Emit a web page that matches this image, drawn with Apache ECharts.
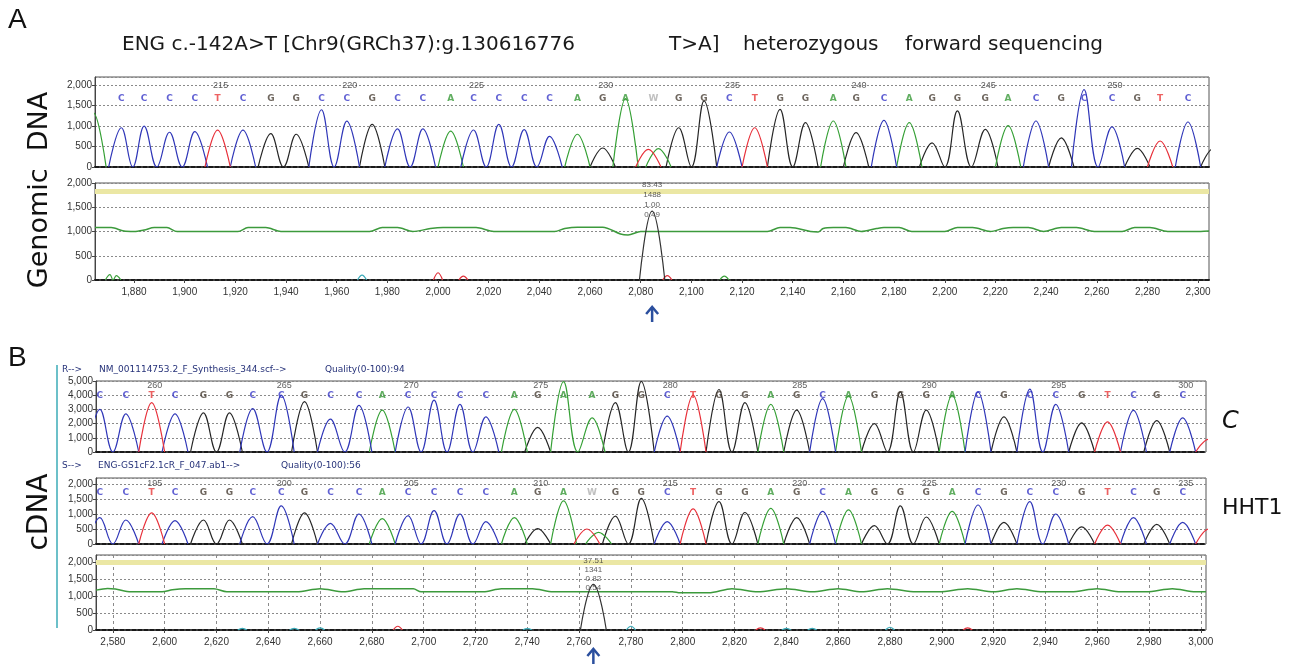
<!DOCTYPE html>
<html>
<head>
<meta charset="utf-8">
<title>ENG c.-142A>T chromatograms</title>
<script src="https://cdn.jsdelivr.net/npm/echarts@6/dist/echarts.min.js"></script>
<style>
  html, body { margin: 0; padding: 0; background: #fff; }
  #MyChart { width: 1298px; height: 665px; }
</style>
</head>
<body>
<div id="MyChart"></div>
<script>
// ---------- A: genomic DNA, forward read ----------
const aFirstBase = 210
const aSeq = 'ACCCCTCGGCCGCCACCCCAGAWGGCTGGAGCAGGGACGCCGTCG'.split('')
const aPos = [1864, 1875, 1884, 1894, 1904, 1913, 1923, 1934, 1944, 1954, 1964, 1974, 1984, 1994, 2005,
  2014, 2024, 2034, 2044, 2055, 2065, 2074, 2085, 2095, 2105, 2115, 2125, 2135, 2145, 2156, 2165,
  2176, 2186, 2195, 2205, 2216, 2225, 2236, 2246, 2255, 2266, 2276, 2285, 2296, 2306]
const aHeight = [1320, 960, 1000, 850, 865, 900, 900, 815, 800, 1400, 1120, 1040, 930, 930, 875,
  905, 1040, 915, 750, 800, 465, 1670, 0, 960, 1615, 855, 960, 1410, 1085, 1125, 840,
  1140, 1085, 590, 1370, 920, 1010, 1125, 710, 1890, 980, 455, 635, 1100, 450]
// the heterozygous call W = A + T
const aHetPos = [2083, 2087]
const aHetSeq = ['T', 'A']
const aHetHeight = [430, 450]
// difference trace
const aDiffPeakPos = [2084.5]
const aDiffPeakHeight = [1420]
const aDiffStats = ['83.43', '1488', '1.00', '0.49']
const aNoisePos = [1870.5, 1873, 1970, 2000, 2010, 2090.5, 2113]
const aNoiseSeq = ['A', 'A', 'C', 'T', 'T', 'T', 'A']
const aNoiseHeight = [110, 90, 100, 150, 80, 90, 80]
const aQualX = [1864.6, 1871, 1876, 1880, 1884, 1888, 1893, 1897, 1921, 1925, 1932, 1938, 1973, 1978,
  1984, 1990, 1997, 2002, 2015, 2022, 2046, 2050, 2055, 2065, 2072, 2075, 2080, 2130, 2135, 2139,
  2147, 2150, 2152, 2156, 2161, 2167, 2173, 2176, 2182, 2187, 2200, 2205, 2211, 2218, 2223, 2227,
  2233, 2239, 2246, 2252, 2259, 2270, 2275, 2281, 2288, 2301, 2304.3]
const aQualY = [1080, 1080, 1010, 1000, 1030, 1080, 1080, 1000, 1000, 1080, 1080, 1000, 1000, 1080,
  1080, 1000, 1060, 1080, 1080, 1000, 1000, 1060, 1090, 1090, 950, 930, 1000, 1000, 1080, 1080,
  1000, 990, 1060, 1080, 1080, 1000, 1060, 1080, 1080, 1000, 1000, 1080, 1080, 1000, 1060, 1080,
  1080, 1000, 1080, 1080, 1000, 1000, 1080, 1080, 1000, 1000, 1010]
const aThreshold = 1840
const aXTicks = [1880, 1900, 1920, 1940, 1960, 1980, 2000, 2020, 2040, 2060, 2080, 2100, 2120, 2140,
  2160, 2180, 2200, 2220, 2240, 2260, 2280, 2300]

// ---------- B: cDNA, reference (C) and patient (HHT1) ----------
const bPos = [2575, 2585, 2595, 2604, 2615, 2625, 2634, 2645, 2654, 2664, 2675, 2684, 2694, 2704,
  2714, 2724, 2735, 2744, 2754, 2765, 2774, 2784, 2794, 2804, 2814, 2824, 2834, 2844, 2854, 2864,
  2874, 2884, 2894, 2904, 2914, 2924, 2934, 2944, 2954, 2964, 2974, 2983, 2993, 3003]
const refFirstBase = 258
const refSeq = 'CCTCGGCCGCCACCCCAGAAGGCTGGAGCAGGGACGCCGTCGCT'.split('')
const refHeight = [3000, 2690, 3480, 2690, 2760, 2760, 3050, 4000, 3550, 2310, 3290, 2950, 3170, 3650,
  3360, 2480, 3000, 1740, 4950, 2400, 3480, 4980, 2520, 4000, 4400, 3480, 3360, 2950, 3760, 3950,
  2000, 4240, 2950, 4000, 4240, 2480, 4430, 3360, 2050, 2120, 2930, 2210, 2400, 900]
const sFirstBase = 193
const sSeq = 'CCTCGGCCGCCACCCCAGAWGGCTGGAGCAGGGACGCCGTCGCT'.split('')
const sHeight = [880, 800, 1040, 780, 800, 800, 910, 1270, 1040, 690, 1000, 845, 945, 1110,
  1000, 745, 880, 510, 1435, 0, 930, 1520, 745, 1170, 1410, 1050, 1190, 880, 1090, 1140,
  610, 1270, 900, 1090, 1300, 720, 1410, 1000, 570, 630, 880, 655, 720, 500]
const sHetPos = [2763, 2767.5]
const sHetSeq = ['T', 'A']
const sHetHeight = [500, 390]
const bDiffPeakPos = [2765.5]
const bDiffPeakHeight = [1340]
const bDiffStats = ['37.51', '1341', '0.82', '0.54']
const bNoisePos = [2630, 2650, 2660, 2690, 2740, 2780, 2830, 2840, 2850, 2880, 2910]
const bNoiseSeq = ['C', 'C', 'C', 'T', 'C', 'C', 'T', 'C', 'C', 'C', 'T']
const bNoiseHeight = [50, 50, 60, 110, 40, 110, 60, 50, 50, 80, 60]
const bQualX = [2573.5, 2578, 2581, 2587, 2599, 2603, 2608, 2619, 2624, 2651, 2660, 2669, 2677, 2696,
  2699, 2723, 2730, 2742, 2750, 2796, 2799, 2810, 2819, 2829, 2840, 2850, 2860, 2869, 2879, 2890,
  2899, 2910, 2920, 2929, 2939, 2950, 2960, 2969, 2979, 2989, 2998, 3002]
const bQualY = [1170, 1220, 1200, 1120, 1120, 1180, 1210, 1210, 1120, 1120, 1210, 1120, 1210, 1210,
  1120, 1120, 1210, 1210, 1120, 1120, 1090, 1090, 1210, 1120, 1210, 1120, 1210, 1120, 1210, 1120,
  1120, 1210, 1120, 1210, 1120, 1120, 1210, 1120, 1120, 1210, 1120, 1120]
const bThreshold = 2000
const bXTicks = [2580, 2600, 2620, 2640, 2660, 2680, 2700, 2720, 2740, 2760, 2780, 2800, 2820, 2840,
  2860, 2880, 2900, 2920, 2940, 2960, 2980, 3000]

// ---------- styles ----------
const A_RANGE = [1864.6, 2304.3]
const B_RANGE = [2573.5, 3002]
const traceColor = { A: '#35a035', C: '#2f36b8', G: '#262626', T: '#e8303a' }
const letterColor = { A: '#3a9a3a', C: '#3a3ac8', G: '#4a4036', T: '#e83a3a', W: '#b0b0b0' }
const diffColor = { A: '#3aa03a', C: '#3aaab8', G: '#333', T: '#e0303a' }
const FONT = '"Liberation Sans", Arial, sans-serif'
const SMALL = '"DejaVu Sans", Tahoma, sans-serif'

// one peak per base call: up from the baseline, top at the height, back down
function traceData (pos, seq, height, base, hw) {
  let pk = []
  for (let i = 0; i < pos.length; i++) {
    if (seq[i] === base && height[i] > 0) pk.push([pos[i], height[i]])
  }
  pk.sort((a, b) => a[0] - b[0])
  let out = []
  for (let i = 0; i < pk.length; i++) {
    let prev = pk[i - 1]
    let next = pk[i + 1]
    let joinPrev = prev && pk[i][0] - prev[0] <= 2 * hw + 1.5
    let joinNext = next && next[0] - pk[i][0] <= 2 * hw + 1.5
    if (!joinPrev) {
      if (out.length) out.push([pk[i][0] - hw, null])
      out.push([pk[i][0] - hw, 0])
    }
    out.push(pk[i])
    out.push(joinNext ? [(pk[i][0] + next[0]) / 2, 0] : [pk[i][0] + hw, 0])
  }
  return out
}

let series = []

function addChromatogram (grid, pos, seq, height, hetPos, hetSeq, hetHeight, firstBase, range, letterY, numberY) {
  let allPos = pos.concat(hetPos)
  let allSeq = seq.concat(hetSeq)
  let allH = height.concat(hetHeight)
  ;['G', 'A', 'C', 'T'].forEach(b => {
    series.push({
      type: 'line', xAxisIndex: grid, yAxisIndex: grid,
      data: traceData(allPos, allSeq, allH, b, 5),
      smooth: 0.4, showSymbol: false, silent: true,
      lineStyle: { color: traceColor[b], width: 1.2 }
    })
  })
  // base letters and position numbers
  let letters = []
  let numbers = []
  for (let i = 0; i < pos.length; i++) {
    if (pos[i] < range[0] + 1 || pos[i] > range[1] - 1) continue
    letters.push({ value: [pos[i], letterY], name: seq[i], label: { color: letterColor[seq[i]] } })
    if ((firstBase + i) % 5 === 0) numbers.push({ value: [pos[i], numberY], name: String(firstBase + i) })
  }
  series.push({
    type: 'scatter', xAxisIndex: grid, yAxisIndex: grid, data: letters, silent: true, z: 5,
    symbolSize: 1, itemStyle: { color: 'rgba(0,0,0,0)' },
    label: { show: true, position: 'inside', formatter: p => p.name, fontSize: 9, fontWeight: 'bold', fontFamily: SMALL }
  })
  series.push({
    type: 'scatter', xAxisIndex: grid, yAxisIndex: grid, data: numbers, silent: true, z: 5,
    symbolSize: 1, itemStyle: { color: 'rgba(0,0,0,0)' },
    label: { show: true, position: 'inside', offset: [3, 0], formatter: p => p.name, fontSize: 9,
      fontFamily: FONT, color: '#333' }
  })
}

function addDifference (grid, peakPos, peakH, stats, noisePos, noiseSeq, noiseH, qualX, qualY, threshold, lh) {
  let qual = qualX.map((x, i) => [x, qualY[i]])
  series.push({
    type: 'line', xAxisIndex: grid, yAxisIndex: grid, data: qual, smooth: 0.3,
    showSymbol: false, silent: true, lineStyle: { color: '#3c9a3c', width: 1.5 },
    markLine: {
      silent: true, symbol: 'none', label: { show: false },
      lineStyle: { color: '#ebe7a4', width: 5, type: 'solid' },
      data: [{ yAxis: threshold }]
    }
  })
  ;['A', 'C', 'T'].forEach(b => {
    series.push({
      type: 'line', xAxisIndex: grid, yAxisIndex: grid,
      data: traceData(noisePos, noiseSeq, noiseH, b, 1.8),
      smooth: 0.4, showSymbol: false, silent: true,
      lineStyle: { color: diffColor[b], width: 1.2 }
    })
  })
  series.push({
    type: 'line', xAxisIndex: grid, yAxisIndex: grid,
    data: traceData(peakPos, peakPos.map(() => 'G'), peakH, 'G', 5),
    smooth: 0.45, showSymbol: false, silent: true,
    lineStyle: { color: diffColor.G, width: 1.2 }
  })
  series.push({
    type: 'scatter', xAxisIndex: grid, yAxisIndex: grid, silent: true, z: 6,
    data: [[peakPos[0], peakH[0]]], symbolSize: 1, itemStyle: { color: 'rgba(0,0,0,0)' },
    label: { show: true, position: 'inside', offset: [0, -lh - 1], formatter: stats.join('\n'),
      fontSize: 8, lineHeight: lh, fontFamily: FONT, color: '#333' }
  })
}

addChromatogram(0, aPos, aSeq, aHeight, aHetPos, aHetSeq, aHetHeight, aFirstBase, A_RANGE, 1680, 2000)
addDifference(1, aDiffPeakPos, aDiffPeakHeight, aDiffStats, aNoisePos, aNoiseSeq, aNoiseHeight,
  aQualX, aQualY, aThreshold, 10)
addChromatogram(2, bPos, refSeq, refHeight, [], [], [], refFirstBase, B_RANGE, 4000, 4700)
addChromatogram(3, bPos, sSeq, sHeight, sHetPos, sHetSeq, sHetHeight, sFirstBase, B_RANGE, 1700, 2000)
addDifference(4, bDiffPeakPos, bDiffPeakHeight, bDiffStats, bNoisePos, bNoiseSeq, bNoiseHeight,
  bQualX, bQualY, bThreshold, 9)

const grids = [
  { left: 95, right: 89, top: 77, height: 90 },
  { left: 95, right: 89, top: 183, height: 97 },
  { left: 96, right: 92, top: 381, height: 71 },
  { left: 96, right: 92, top: 478, height: 66 },
  { left: 96, right: 92, top: 555, height: 75 }
].map(g => Object.assign({ show: true, borderColor: '#555', borderWidth: 1 }, g))

const yMax = [2200, 2000, 5000, 2200, 2200]
const yStep = [500, 500, 1000, 500, 500]
const yAxes = yMax.map((m, i) => ({
  gridIndex: i, type: 'value', min: 0, max: m, interval: yStep[i],
  axisLine: { show: true, lineStyle: { color: '#444' } },
  axisTick: { show: true, length: 3, lineStyle: { color: '#444' } },
  axisLabel: { fontSize: 10, fontFamily: FONT, color: '#333', margin: 3, showMaxLabel: m % yStep[i] === 0 },
  splitLine: { show: true, lineStyle: { color: '#8a8a8a', type: [2, 2], width: 1 } }
}))

const xRanges = [A_RANGE, A_RANGE, B_RANGE, B_RANGE, B_RANGE]
const xTicks = [null, aXTicks, null, null, bXTicks]
const xAxes = xRanges.map((r, i) => {
  let ax = {
    gridIndex: i, type: 'value', min: r[0], max: r[1],
    axisLine: { show: true, onZero: false, lineStyle: { color: '#1a1a1a', type: [4, 2], width: 2 } },
    axisTick: { show: false }, axisLabel: { show: false }, splitLine: { show: false }
  }
  if (xTicks[i]) {
    ax.axisTick = { show: true, customValues: xTicks[i], length: 3, lineStyle: { color: '#444' } }
    ax.axisLabel = { show: true, customValues: xTicks[i], fontSize: 10, fontFamily: FONT, color: '#333', margin: 7 }
    ax.splitLine = { show: i === 4, lineStyle: { color: '#8a8a8a', type: [3, 3], width: 1 } }
  }
  return ax
})

let myChart = echarts.init(document.getElementById('MyChart'), null, { renderer: 'canvas' })
myChart.setOption({
  animation: false,
  backgroundColor: '#fff',
  grid: grids,
  xAxis: xAxes,
  yAxis: yAxes,
  series: series
})

// annotations (arrows point at the heterozygous position)
function arrow (x, y) {
  return {
    type: 'group', silent: true, children: [
      { type: 'polyline', shape: { points: [[x - 6, y + 7], [x, y], [x + 6, y + 7]] },
        style: { stroke: '#2b4f9e', lineWidth: 2.5, fill: null } },
      { type: 'line', shape: { x1: x, y1: y, x2: x, y2: y + 15 }, style: { stroke: '#2b4f9e', lineWidth: 2.5 } }
    ]
  }
}
function text (x, y, str, size, extra) {
  return { type: 'text', x: x, y: y, silent: true,
    style: Object.assign({ text: str, fontSize: size, fontFamily: FONT, fill: '#111', verticalAlign: 'middle' }, extra || {}) }
}
let ax = myChart.convertToPixel({ xAxisIndex: 1 }, aDiffPeakPos[0])
let bx = myChart.convertToPixel({ xAxisIndex: 4 }, bDiffPeakPos[0])
const navy = { fill: '#27337a', fontFamily: SMALL }
const TITLE = { fontFamily: '"DejaVu Sans", sans-serif', fill: '#1a1a1a' }
myChart.setOption({
  graphic: [
    text(8, 20, 'A', 28),
    text(8, 358, 'B', 28),
    text(122, 45, 'ENG c.-142A>T [Chr9(GRCh37):g.130616776', 20, TITLE),
    text(669, 45, 'T>A]', 20, TITLE),
    text(743, 45, 'heterozygous', 20, TITLE),
    text(905, 45, 'forward sequencing', 20, TITLE),
    Object.assign(text(40, 190, 'Genomic  DNA', 27, { align: 'center', fontFamily: '"DejaVu Sans", sans-serif' }), { rotation: Math.PI / 2 }),
    Object.assign(text(40, 512, 'cDNA', 28, { align: 'center', fontFamily: '"DejaVu Sans", sans-serif' }), { rotation: Math.PI / 2 }),
    text(1222, 422, 'C', 24, { fontStyle: 'italic', fontFamily: '"DejaVu Sans", sans-serif' }),
    text(1222, 508, 'HHT1', 22, { fontFamily: '"DejaVu Sans", sans-serif' }),
    text(62, 370, 'R-->', 9, navy),
    text(99, 370, 'NM_001114753.2_F_Synthesis_344.scf-->', 9, navy),
    text(325, 370, 'Quality(0-100):94', 9, navy),
    text(62, 466, 'S-->', 9, navy),
    text(98, 466, 'ENG-GS1cF2.1cR_F_047.ab1-->', 9, navy),
    text(281, 466, 'Quality(0-100):56', 9, navy),
    { type: 'line', silent: true, shape: { x1: 57, y1: 365, x2: 57, y2: 628 }, style: { stroke: '#6cc0c9', lineWidth: 2 } },
    arrow(ax, 307),
    arrow(bx, 649)
  ]
})
</script>
</body>
</html>
